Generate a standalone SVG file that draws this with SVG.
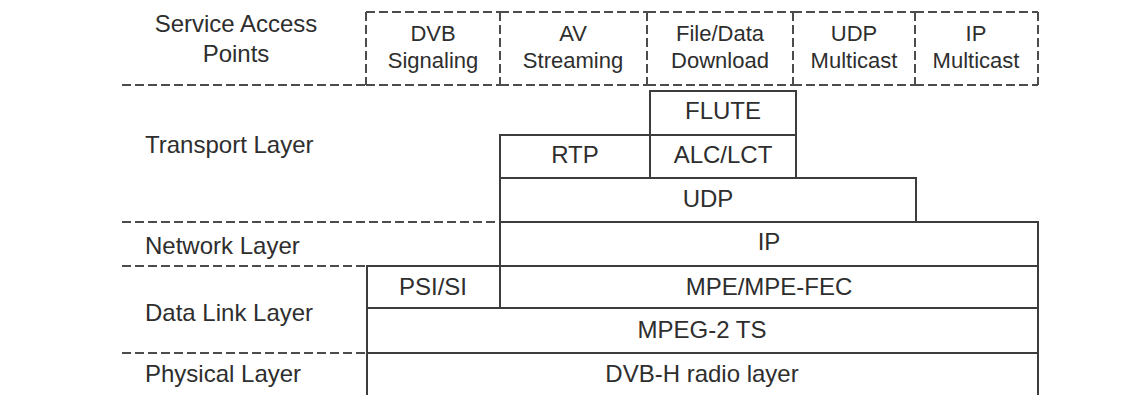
<svg xmlns="http://www.w3.org/2000/svg" width="1138" height="395" viewBox="0 0 1138 395">
<style>
.bg{fill:#fff}
.box{fill:none;stroke:#3c3c3c;stroke-width:2}
.dash{fill:none;stroke:#4c4c4c;stroke-width:2;stroke-dasharray:9 4}
text{font-family:"Liberation Sans",Arial,sans-serif;fill:#2e2e2e;font-size:24px}
.c{text-anchor:middle}
.sap{font-size:22px;text-anchor:middle}
</style>
<rect class="bg" x="0" y="0" width="1138" height="395"/>
<g id="layer-separators">
<line class="dash" x1="122" y1="85" x2="366" y2="85"/>
<line class="dash" x1="122" y1="222" x2="500" y2="222"/>
<line class="dash" x1="122" y1="266" x2="367" y2="266"/>
<line class="dash" x1="122" y1="353" x2="367" y2="353"/>
</g>
<g id="layer-labels">
<text class="c" x="236" y="32">Service Access</text>
<text class="c" x="236" y="62">Points</text>
<text x="145" y="153">Transport Layer</text>
<text x="145" y="254">Network Layer</text>
<text x="145" y="321">Data Link Layer</text>
<text x="145" y="382">Physical Layer</text>
</g>
<g id="sap-dvb-signaling">
<path class="dash" d="M366,12 H500 M366,85 H500 M366,12 V85"/>
<text class="sap" x="433" y="41">DVB</text>
<text class="sap" x="433" y="68">Signaling</text>
</g>
<g id="sap-av-streaming">
<path class="dash" d="M500,12 H647 M500,85 H647 M500,12 V85"/>
<text class="sap" x="573" y="41">AV</text>
<text class="sap" x="573" y="68">Streaming</text>
</g>
<g id="sap-file-download">
<path class="dash" d="M647,12 H793 M647,85 H793 M647,12 V85"/>
<text class="sap" x="720" y="41">File/Data</text>
<text class="sap" x="720" y="68">Download</text>
</g>
<g id="sap-udp-multicast">
<path class="dash" d="M793,12 H915 M793,85 H915 M793,12 V85"/>
<text class="sap" x="854" y="41">UDP</text>
<text class="sap" x="854" y="68">Multicast</text>
</g>
<g id="sap-ip-multicast">
<path class="dash" d="M915,12 H1038 M915,85 H1038 M915,12 V85 M1038,12 V85"/>
<text class="sap" x="976" y="41">IP</text>
<text class="sap" x="976" y="68">Multicast</text>
</g>
<g id="flute">
<rect class="box" x="650" y="91" width="146" height="44"/>
<text class="c" x="723" y="119">FLUTE</text>
</g>
<g id="alc-lct">
<rect class="box" x="650" y="135" width="146" height="43"/>
<text class="c" x="723" y="163">ALC/LCT</text>
</g>
<g id="rtp">
<rect class="box" x="500" y="135" width="150" height="43"/>
<text class="c" x="575" y="163">RTP</text>
</g>
<g id="udp">
<rect class="box" x="500" y="178" width="416" height="44"/>
<text class="c" x="708" y="207">UDP</text>
</g>
<g id="ip">
<rect class="box" x="500" y="222" width="538" height="44"/>
<text class="c" x="769" y="250">IP</text>
</g>
<g id="psi-si">
<rect class="box" x="367" y="266" width="133" height="42"/>
<text class="c" x="433" y="295">PSI/SI</text>
</g>
<g id="mpe-fec">
<rect class="box" x="500" y="266" width="538" height="42"/>
<text class="c" x="769" y="295">MPE/MPE-FEC</text>
</g>
<g id="mpeg2-ts">
<rect class="box" x="367" y="308" width="671" height="45"/>
<text class="c" x="702" y="338">MPEG-2 TS</text>
</g>
<g id="dvb-h-radio">
<rect class="box" x="367" y="353" width="671" height="50"/>
<text class="c" x="702" y="382">DVB-H radio layer</text>
</g>
<g id="connectors"/>
</svg>
